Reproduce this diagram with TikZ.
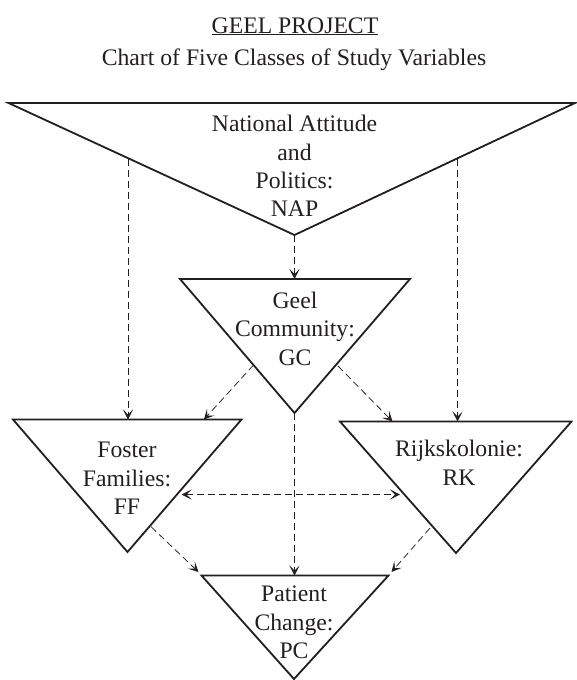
\documentclass[tikz,border=0pt]{standalone}
\usepackage{fontspec}
\setmainfont{Liberation Serif}
\usetikzlibrary{arrows.meta}
\definecolor{textc}{HTML}{231F20}
\begin{document}
\begin{tikzpicture}[x=1pt,y=-1pt,
  tri/.style={draw=textc,line width=1.8pt,line join=miter},
  lbl/.style={anchor=base,inner sep=0pt,text=textc,font=\fontsize{23.7}{28.5}\selectfont},
  tip/.style={},
  arr/.style={draw=textc,line width=0.75pt,dash pattern=on 7pt off 4pt,-{Stealth[length=10pt,width=10pt,inset=5pt]}},
  darr/.style={draw=textc,line width=0.75pt,dash pattern=on 7pt off 4pt,{Stealth[length=10pt,width=10pt,inset=5pt]}-{Stealth[length=10pt,width=10pt,inset=5pt]}}]
\useasboundingbox (0,0) rectangle (577,680);
% title
\node[lbl] (title1) at (295,33) {\underline{GEEL PROJECT}};
\node[lbl] (title2) at (294,65) {Chart of Five Classes of Study Variables};
% triangle vertices
\coordinate (T1) at (8.5,103);   \coordinate (T2) at (575,103);   \coordinate (T3) at (294.5,235);
\coordinate (G1) at (180,279); \coordinate (G2) at (410,279);   \coordinate (G3) at (294.5,413);
\coordinate (F1) at (13,419.5);\coordinate (F2) at (241.5,419.5);\coordinate (F3) at (127.5,552);
\coordinate (R1) at (340,421.5);\coordinate (R2) at (571.5,421.5);\coordinate (R3) at (456,553);
\coordinate (P1) at (201.5,575.5);\coordinate (P2) at (388.5,575.5);\coordinate (P3) at (294,679);
\draw[tri] (T1) -- (T2) -- (T3) -- cycle;
\draw[tri] (G1) -- (G2) -- (G3) -- cycle;
\draw[tri] (F1) -- (F2) -- (F3) -- cycle;
\draw[tri] (R1) -- (R2) -- (R3) -- cycle;
\draw[tri] (P1) -- (P2) -- (P3) -- cycle;
% labels
\node[lbl] (nap1) at (294.5,131.5) {National Attitude};
\node[lbl] (nap2) at (294.5,160) {and};
\node[lbl] (nap3) at (294.5,188.5) {Politics:};
\node[lbl] (nap4) at (294.5,216) {NAP};
\node[lbl] (gc1) at (295,308) {Geel};
\node[lbl] (gc2) at (295,336.7) {Community:};
\node[lbl] (gc3) at (295,365) {GC};
\node[lbl] (ff1) at (127,457.3) {Foster};
\node[lbl] (ff2) at (127,486) {Families:};
\node[lbl] (ff3) at (127,514) {FF};
\node[lbl] (rk1) at (459,456) {Rijkskolonie:};
\node[lbl] (rk2) at (459,485) {RK};
\node[lbl] (pc1) at (294,601.7) {Patient};
\node[lbl] (pc2) at (294,630) {Change:};
\node[lbl] (pc3) at (294,658) {PC};
% connector end points
\coordinate (nL) at (128,158.6);   \coordinate (fT) at (128,419.5);
\coordinate (nR) at (457.5,159.4); \coordinate (rT) at (457.5,421.5);
\coordinate (gT) at (294.5,279);
\coordinate (gL) at (253.5,365);   \coordinate (fT2) at (204,419.5);
\coordinate (gR) at (338,366);     \coordinate (rT2) at (392.5,421.5);
\coordinate (pT) at (294.5,575.5);
\coordinate (fS) at (181.5,494.5); \coordinate (rS) at (400,494.5);
\coordinate (fB) at (151,526.7);   \coordinate (pL) at (198.5,572);
\coordinate (rB) at (430,528);     \coordinate (pR) at (391.5,572);
% connectors
\draw[arr] (nL) -- (fT);
\draw[arr] (nR) -- (rT);
\draw[arr] (T3) -- (gT);
\draw[arr] (gL) -- (fT2);
\draw[arr] (gR) -- (rT2);
\draw[arr] (G3) -- (pT);
\draw[darr] (fS) -- (rS);
\draw[arr] (fB) -- (pL);
\draw[arr] (rB) -- (pR);
\end{tikzpicture}
\end{document}
